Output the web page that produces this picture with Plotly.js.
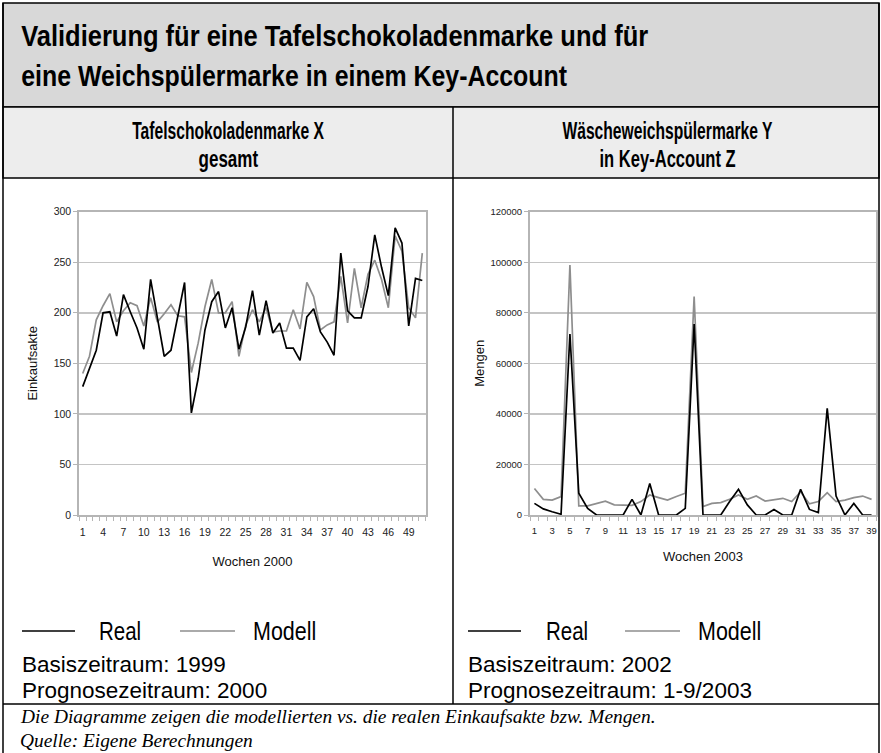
<!DOCTYPE html>
<html>
<head>
<meta charset="utf-8">
<script src="https://cdn.plot.ly/plotly-3.0.1.min.js"></script>
<style>html,body{margin:0;padding:0;background:#fff;}#chart{width:881px;height:753px;}</style>
</head>
<body>
<div id="chart"></div>
<script>
// ---- data: Tafelschokoladenmarke X (Einkaufsakte, Wochen 2000) ----
const weeksX = [1,2,3,4,5,6,7,8,9,10,11,12,13,14,15,16,17,18,19,20,21,22,23,24,25,26,27,28,29,30,31,32,33,34,35,36,37,38,39,40,41,42,43,44,45,46,47,48,49,50,51];
const realX  = [127,145,163,200,201,177,218,201,185,164,233,195,157,163,196,230,101,135,183,211,221,185,205,164,186,222,178,212,180,190,165,165,153,196,204,181,171,158,259,202,195,195,226,277,245,217,284,269,187,234,232];
const modelX = [140,157,193,207,219,191,202,210,207,187,215,191,199,208,197,196,141,170,206,233,200,200,211,157,188,203,191,205,181,182,182,203,184,230,216,183,188,191,236,190,244,205,238,252,233,205,276,261,205,195,259];
const tickLabelsX = [1,4,7,10,13,16,19,22,25,28,31,34,37,40,43,46,49];

// ---- data: Wäscheweichspülermarke Y (Mengen, Wochen 2003) ----
const weeksY = [1,2,3,4,5,6,7,8,9,10,11,12,13,14,15,16,17,18,19,20,21,22,23,24,25,26,27,28,29,30,31,32,33,34,35,36,37,38,39];
const realY  = [4600,2400,1300,300,71600,8600,2600,0,0,0,0,6200,0,12500,0,0,0,2600,75600,0,0,0,5300,10200,4000,0,0,2200,0,0,10200,2200,1000,42200,7500,0,4600,0,0];
const modelY = [10500,6200,5900,7300,98900,3600,3600,4600,5500,4000,3800,3800,5300,7900,6900,5900,7300,8600,86400,3300,4600,4900,6200,7900,6200,7500,5500,6200,6600,5300,9200,4400,5300,8800,5300,5900,6900,7500,6200];
const tickLabelsY = [1,3,5,7,9,11,13,15,17,19,21,23,25,27,29,31,33,35,37,39];

const W = 881, H = 753;
const px = v => v / W;
const py = v => 1 - v / H;

const BLACK = '#000000', GRAY = '#8e8e8e';
const NARROW = '"Liberation Sans", Arial, sans-serif';
const SANS = '"Liberation Sans", Arial, sans-serif';
const SERIF = '"Liberation Serif", "DejaVu Serif", serif';

const traces = [
  {x: weeksX, y: modelX, type: 'scatter', mode: 'lines', name: 'Modell', line: {color: GRAY, width: 1.7}, xaxis: 'x', yaxis: 'y', showlegend: false},
  {x: weeksX, y: realX,  type: 'scatter', mode: 'lines', name: 'Real',   line: {color: BLACK, width: 1.7}, xaxis: 'x', yaxis: 'y', showlegend: false},
  {x: weeksY, y: modelY, type: 'scatter', mode: 'lines', name: 'Modell', line: {color: GRAY, width: 1.7}, xaxis: 'x2', yaxis: 'y2', showlegend: false},
  {x: weeksY, y: realY,  type: 'scatter', mode: 'lines', name: 'Real',   line: {color: BLACK, width: 1.7}, xaxis: 'x2', yaxis: 'y2', showlegend: false}
];

function xAxis(domain, n, vals, title, fs, standoff) {
  return {
    domain: domain, range: [0.5, n + 0.5], fixedrange: true,
    tickmode: 'array', tickvals: vals, ticktext: vals.map(String),
    ticks: '', showgrid: false, zeroline: false,
    showline: true, linecolor: '#b5b5b5', linewidth: 2, mirror: true,
    tickfont: {family: SANS, size: fs, color: '#222'},
    ticklabelstandoff: 6,
    minor: {ticks: 'outside', tickmode: 'linear', tick0: 0.5, dtick: 1, ticklen: 4, tickcolor: '#b5b5b5', tickwidth: 1, showgrid: false},
    title: {text: title, font: {family: SANS, size: 13, color: '#111'}, standoff: standoff}
  };
}
function yAxis(domain, range, dtick, title, fs, anchor, standoff) {
  return {
    domain: domain, range: range, dtick: dtick, tick0: 0, fixedrange: true, anchor: anchor,
    tickformat: 'd',
    ticks: 'outside', ticklen: 4, tickcolor: '#b5b5b5',
    showgrid: true, gridcolor: '#c4c4c4', gridwidth: 1.5, zeroline: false,
    showline: true, linecolor: '#b5b5b5', linewidth: 2, mirror: true,
    tickfont: {family: SANS, size: fs, color: '#222'},
    title: {text: title, font: {family: SANS, size: 13, color: '#111'}, standoff: standoff}
  };
}

const yDom = [py(515), py(211.7)];

const shapes = [
  {type: 'rect', xref: 'paper', yref: 'paper', x0: px(3), x1: px(879), y0: py(107), y1: py(3), fillcolor: '#d8d8d8', line: {color: '#000', width: 1.5}, layer: 'below'},
  {type: 'rect', xref: 'paper', yref: 'paper', x0: px(3), x1: px(879), y0: py(178), y1: py(107), fillcolor: '#ededed', line: {color: '#000', width: 1.5}, layer: 'below'},
  {type: 'line', xref: 'paper', yref: 'paper', x0: px(3), x1: px(3), y0: py(3), y1: py(760), line: {color: '#000', width: 1.5}},
  {type: 'line', xref: 'paper', yref: 'paper', x0: px(879), x1: px(879), y0: py(3), y1: py(760), line: {color: '#000', width: 1.5}},
  {type: 'line', xref: 'paper', yref: 'paper', x0: px(453), x1: px(453), y0: py(107), y1: py(704), line: {color: '#000', width: 1.5}},
  {type: 'line', xref: 'paper', yref: 'paper', x0: px(3), x1: px(879), y0: py(704), y1: py(704), line: {color: '#000', width: 1.5}},
  {type: 'line', xref: 'paper', yref: 'paper', x0: px(22), x1: px(75), y0: py(631), y1: py(631), line: {color: BLACK, width: 1.5}},
  {type: 'line', xref: 'paper', yref: 'paper', x0: px(180), x1: px(235), y0: py(631), y1: py(631), line: {color: GRAY, width: 1.5}},
  {type: 'line', xref: 'paper', yref: 'paper', x0: px(468), x1: px(521), y0: py(631), y1: py(631), line: {color: BLACK, width: 1.5}},
  {type: 'line', xref: 'paper', yref: 'paper', x0: px(625), x1: px(680), y0: py(631), y1: py(631), line: {color: GRAY, width: 1.5}}
];

// per-annotation horizontal condensing (imitates the condensed typeface)
const squeeze = [];
function ann(text, x, y, font, sx, opts) {
  squeeze.push(sx);
  return Object.assign({text: text, xref: 'paper', yref: 'paper', x: px(x), y: py(y), showarrow: false,
    xanchor: 'left', yanchor: 'middle', font: font}, opts || {});
}
const titleFont = {family: NARROW, size: 30, color: '#000', weight: 'bold'};
const subFont = {family: NARROW, size: 23, color: '#000', weight: 'bold'};
const legFont = {family: NARROW, size: 25, color: '#000'};
const infoFont = {family: NARROW, size: 22.5, color: '#000'};
const footFont = {family: SERIF, size: 19, color: '#000', style: 'italic'};

const annotations = [
  ann('<b>Validierung für eine Tafelschokoladenmarke und für</b>', 19, 36, titleFont, 0.85),
  ann('<b>eine Weichspülermarke in einem Key-Account</b>', 19, 75, titleFont, 0.83),
  ann('<b>Tafelschokoladenmarke X</b>', 228, 131, subFont, 0.68, {xanchor: 'center'}),
  ann('<b>gesamt</b>', 228, 159, subFont, 0.74, {xanchor: 'center'}),
  ann('<b>Wäscheweichspülermarke Y</b>', 667, 131, subFont, 0.68, {xanchor: 'center'}),
  ann('<b>in Key-Account Z</b>', 667, 159, subFont, 0.72, {xanchor: 'center'}),
  ann('Real', 97, 631, legFont, 0.82),
  ann('Modell', 251, 631, legFont, 0.86),
  ann('Real', 544, 631, legFont, 0.82),
  ann('Modell', 696, 631, legFont, 0.86),
  ann('Basiszeitraum: 1999', 20, 664, infoFont, 1),
  ann('Prognosezeitraum: 2000', 20, 690, infoFont, 1),
  ann('Basiszeitraum: 2002', 466, 664, infoFont, 1),
  ann('Prognosezeitraum: 1-9/2003', 466, 690, infoFont, 1),
  ann('Die Diagramme zeigen die modellierten vs. die realen Einkaufsakte bzw. Mengen.', 18, 716, footFont, 1.02),
  ann('Quelle: Eigene Berechnungen', 18, 740, footFont, 1.02)
];

const layout = {
  width: W, height: H,
  margin: {l: 0, r: 0, t: 0, b: 0, pad: 0},
  paper_bgcolor: '#ffffff', plot_bgcolor: '#ffffff',
  showlegend: false,
  xaxis: Object.assign(xAxis([px(79.3), px(425.7)], weeksX.length, tickLabelsX, 'Wochen 2000', 10.5, 20), {anchor: 'y'}),
  yaxis: yAxis(yDom, [0, 300], 50, 'Einkaufsakte', 10.5, 'x', 13),
  xaxis2: Object.assign(xAxis([px(530), px(876)], weeksY.length, tickLabelsY, 'Wochen 2003', 9.5, 16), {anchor: 'y2'}),
  yaxis2: yAxis(yDom, [0, 120000], 20000, 'Mengen', 9.5, 'x2', 3),
  shapes: shapes,
  annotations: annotations
};

Plotly.newPlot('chart', traces, layout, {displayModeBar: false, staticPlot: true}).then(function (gd) {
  const groups = gd.querySelectorAll('g.annotation');
  groups.forEach(function (g, i) {
    const t = g.querySelector('text.annotation-text');
    const sx = squeeze[i];
    if (!t || !sx || sx === 1) return;
    const anchor = annotations[i].xanchor === 'center' ? 'center' : 'left';
    t.style.transformBox = 'fill-box';
    t.style.transformOrigin = anchor + ' center';
    t.style.transform = 'scaleX(' + sx + ')';
  });
});
</script>
</body>
</html>
